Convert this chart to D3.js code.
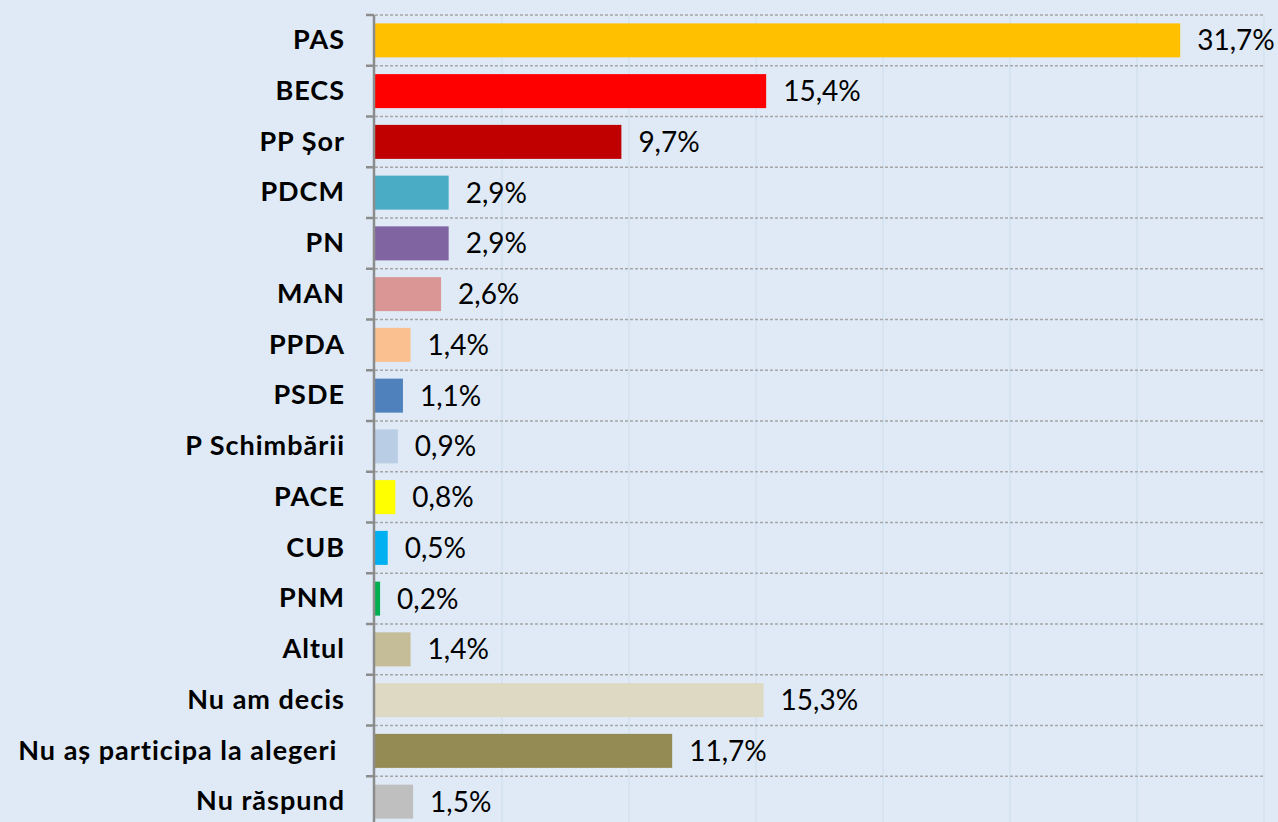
<!DOCTYPE html>
<html><head><meta charset="utf-8">
<script src="https://cdn.jsdelivr.net/npm/d3@7"></script>
<style>
html,body{margin:0;padding:0;background:#dfeaf6;}
svg{display:block;}
</style></head>
<body>
<svg id="chart" width="1278" height="822"></svg>
<script>
const categories = ["PAS","BECS","PP Șor","PDCM","PN","MAN","PPDA","PSDE","P Schimbării","PACE","CUB","PNM","Altul","Nu am decis","Nu aș participa la alegeri ","Nu răspund"];
const values = [31.7,15.4,9.7,2.9,2.9,2.6,1.4,1.1,0.9,0.8,0.5,0.2,1.4,15.3,11.7,1.5];
const colors = ["#FFC000","#FF0000","#C00000","#4BACC6","#8064A2","#D99694","#FAC090","#4F81BD","#B9CDE5","#FFFF00","#00B0F0","#00B050","#C4BD97","#DDD9C3","#948A54","#BFBFBF"];
const xTicks = [0,5,10,15,20,25,30,35];

const svg = d3.select("#chart");
const x = d3.scaleLinear().domain([0,35]).range([375,1264]);
const y = d3.scaleBand().domain(categories).range([15,827]).paddingInner(0.33).paddingOuter(0.165);
const locale = d3.formatLocale({decimal:",",thousands:".",grouping:[3],currency:["","€"]});
const fmt = locale.format(".1f");

// vertical faint gridlines
svg.append("g").selectAll("line").data(xTicks.slice(1)).join("line")
  .attr("x1",d=>x(d)).attr("x2",d=>x(d)).attr("y1",15).attr("y2",827)
  .attr("stroke","#d3e0ee").attr("stroke-width",1.5);

// horizontal dashed gridlines at category boundaries
const bounds = d3.range(categories.length+1).map(i=>15+i*y.step());
svg.append("g").selectAll("line").data(bounds).join("line")
  .attr("x1",375).attr("x2",1264).attr("y1",d=>d).attr("y2",d=>d)
  .attr("stroke","#a6a6a6").attr("stroke-width",1.5).attr("stroke-dasharray","3,2");

// bars
svg.append("g").selectAll("rect").data(categories).join("rect")
  .attr("x",x(0)).attr("y",d=>y(d))
  .attr("width",(d,i)=>x(values[i])-x(0))
  .attr("height",y.bandwidth())
  .attr("fill",(d,i)=>colors[i]);

// y axis
const yAxis = d3.axisLeft(y).tickSize(0).tickPadding(29);
const ga = svg.append("g").attr("transform","translate(374,0)").call(yAxis);
ga.select(".domain").remove();
ga.selectAll("text").attr("font-family","Lato, 'Open Sans', sans-serif").attr("font-weight","bold")
  .attr("font-size","27px").attr("letter-spacing","1px").attr("fill","#000").style("white-space","pre");
svg.append("line").attr("x1",374).attr("x2",374).attr("y1",15).attr("y2",827)
  .attr("stroke","#8c8c8c").attr("stroke-width",2.5);
svg.append("g").selectAll("line").data(bounds).join("line")
  .attr("x1",366).attr("x2",374).attr("y1",d=>d).attr("y2",d=>d)
  .attr("stroke","#8c8c8c").attr("stroke-width",2.5);

// value labels
svg.append("g").selectAll("text").data(categories).join("text")
  .attr("x",(d,i)=>x(values[i])+17)
  .attr("y",d=>y(d)+y.bandwidth()/2)
  .attr("dy","0.36em")
  .attr("font-family","Lato, 'Open Sans', sans-serif")
  .attr("font-size","28px").attr("fill","#000")
  .text((d,i)=>fmt(values[i])+"%");
</script>
</body></html>
